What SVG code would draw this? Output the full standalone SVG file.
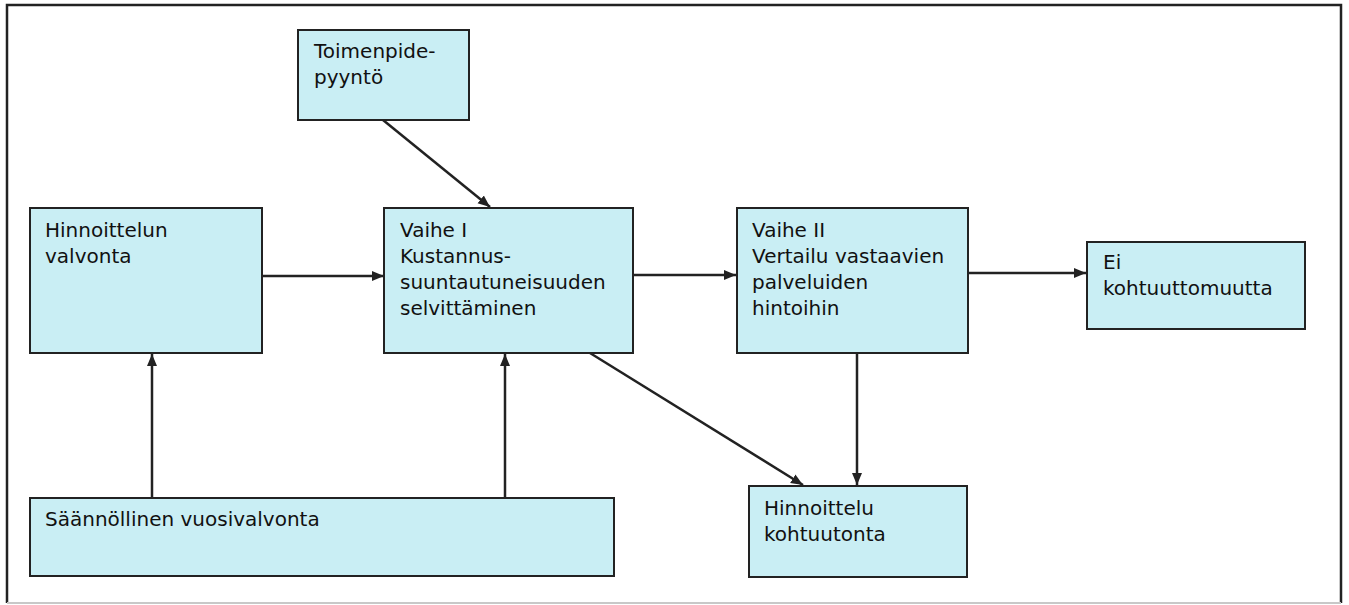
<svg xmlns="http://www.w3.org/2000/svg" width="1349" height="605" viewBox="0 0 1349 605">
<style>
.box{fill:#c9eef4;stroke:#222;stroke-width:2}
.t{font-family:"DejaVu Sans",Verdana,sans-serif;font-size:20px;fill:#111}
.c{stroke:#222;stroke-width:2.5;fill:none;marker-end:url(#ah)}
</style>
<defs>
<marker id="ah" markerUnits="userSpaceOnUse" markerWidth="14" markerHeight="12" refX="12" refY="6" orient="auto">
<path d="M0,1 L12,6 L0,11 Z" fill="#222"/>
</marker>
</defs>
<rect width="1349" height="605" fill="#fff"/>
<path d="M7,603 L7,5 L1341,5 L1341,603" fill="none" stroke="#222" stroke-width="2.5"/>
<line x1="7" y1="603" x2="1341" y2="603" stroke="#c8c8c8" stroke-width="2"/>
<g id="connectors">
<line class="c" x1="383" y1="120" x2="490" y2="207"/>
<line class="c" x1="262" y1="276" x2="384" y2="276"/>
<line class="c" x1="633" y1="275" x2="736" y2="275"/>
<line class="c" x1="968" y1="273" x2="1086" y2="273"/>
<line class="c" x1="152" y1="498" x2="152" y2="354"/>
<line class="c" x1="505" y1="498" x2="505" y2="354"/>
<line class="c" x1="590" y1="353" x2="803" y2="485"/>
<line class="c" x1="857" y1="353" x2="857" y2="485"/>
</g>
<g id="toimenpide">
<rect class="box" x="298" y="30" width="171" height="90"/>
<text class="t" x="314" y="58">Toimenpide-</text>
<text class="t" x="314" y="84">pyyntö</text>
</g>
<g id="hinnoittelun-valvonta">
<rect class="box" x="30" y="208" width="232" height="145"/>
<text class="t" x="45" y="237">Hinnoittelun</text>
<text class="t" x="45" y="263">valvonta</text>
</g>
<g id="vaihe1">
<rect class="box" x="384" y="208" width="249" height="145"/>
<text class="t" x="400" y="237">Vaihe I</text>
<text class="t" x="400" y="263">Kustannus-</text>
<text class="t" x="400" y="289">suuntautuneisuuden</text>
<text class="t" x="400" y="315">selvittäminen</text>
</g>
<g id="vaihe2">
<rect class="box" x="737" y="208" width="231" height="145"/>
<text class="t" x="752" y="237">Vaihe II</text>
<text class="t" x="752" y="263">Vertailu vastaavien</text>
<text class="t" x="752" y="289">palveluiden</text>
<text class="t" x="752" y="315">hintoihin</text>
</g>
<g id="ei-kohtuuttomuutta">
<rect class="box" x="1087" y="242" width="218" height="87"/>
<text class="t" x="1103" y="269">Ei</text>
<text class="t" x="1103" y="295">kohtuuttomuutta</text>
</g>
<g id="saannollinen">
<rect class="box" x="30" y="498" width="584" height="78"/>
<text class="t" x="45" y="526">Säännöllinen vuosivalvonta</text>
</g>
<g id="hinnoittelu-kohtuutonta">
<rect class="box" x="749" y="486" width="218" height="91"/>
<text class="t" x="764" y="515">Hinnoittelu</text>
<text class="t" x="764" y="541">kohtuutonta</text>
</g>
</svg>
